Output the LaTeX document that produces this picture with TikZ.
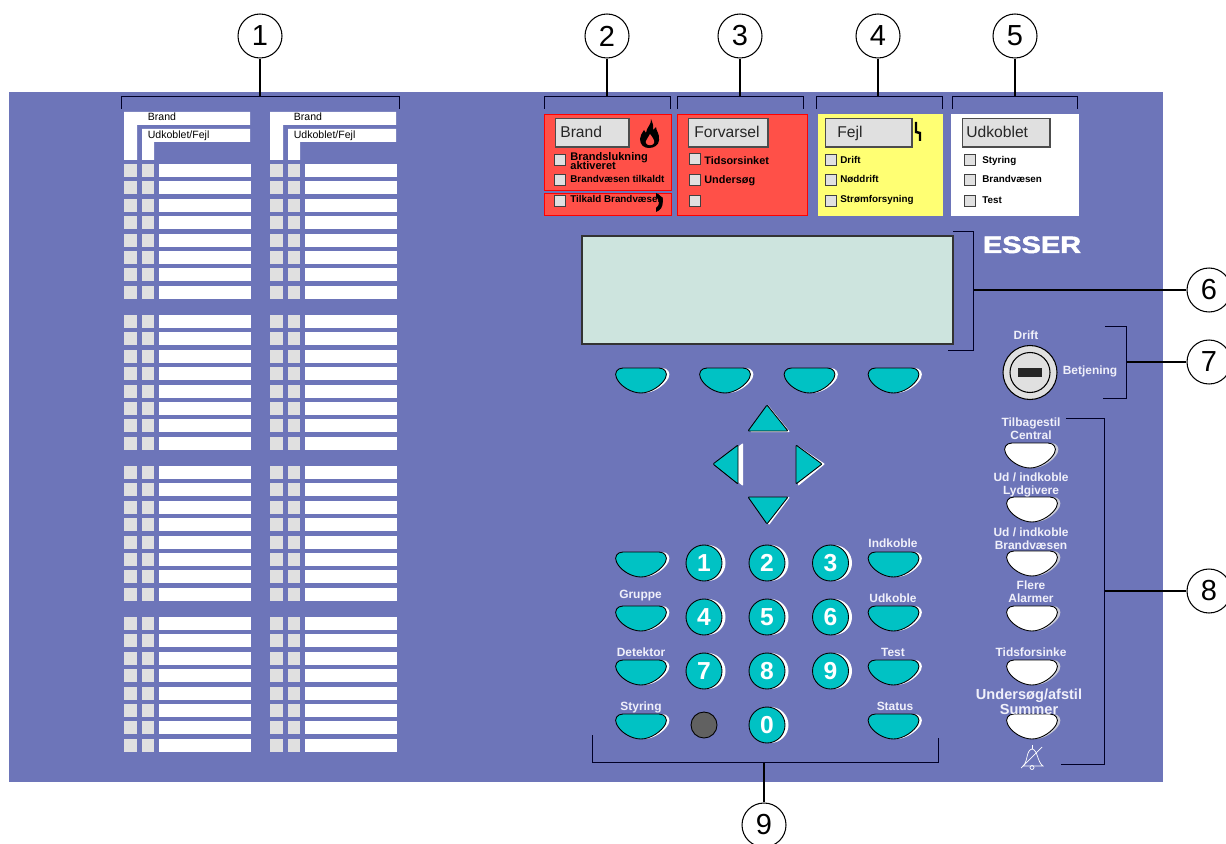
\documentclass[tikz,border=0pt]{standalone}
\usepackage{fontspec}
\setmainfont{Liberation Sans}
\newfontfamily\logofont[FakeBold=2]{Liberation Sans}
\usetikzlibrary{arrows.meta}
\definecolor{panelblue}{HTML}{6D75B9}
\definecolor{keyteal}{HTML}{00C2C4}
\definecolor{alarmred}{HTML}{FF5048}
\definecolor{faultyellow}{HTML}{FFFF73}
\definecolor{lampgrey}{HTML}{E0E0E0}
\definecolor{screengreen}{HTML}{CDE4DE}
\definecolor{labelwhite}{HTML}{F0F0FA}
\newcommand{\keypath}{(-18,0) -- (18,0) .. controls (24,0) and (27,5) .. (24.5,10) .. controls (21,17) and (10,25) .. (0,25) .. controls (-10,25) and (-21,18) .. (-24.5,10) .. controls (-27,5) and (-24,0) .. (-18,0) -- cycle}
\tikzset{
  softkey/.pic={
    \fill[white] [shift={(3,0)}] \keypath;
    \draw[fill=keyteal, line width=0.5pt] \keypath;
  },
  whitekey/.pic={
    \fill[lampgrey!80!panelblue] [shift={(3,0)}] \keypath;
    \draw[fill=white, line width=0.5pt] \keypath;
  },
  callout/.style={draw, circle, fill=white, line width=0.6pt, minimum size=0.88cm, inner sep=0pt, font=\fontsize{16.5}{16.5}\selectfont},
  bracket/.style={line width=0.55pt, draw=black!85!blue},
  leader/.style={line width=1.6pt},
  headbox/.style={draw=black!70, fill=lampgrey, line width=0.6pt},
  headtext/.style={anchor=base west, inner sep=0pt, text=black!85, font=\fontsize{8.9}{9}\selectfont},
  lamp/.style={draw=black!75, fill=lampgrey, line width=0.5pt},
  lamptext/.style={anchor=base west, inner sep=0pt, font=\fontsize{6.2}{6.2}\selectfont\bfseries},
  smalltext/.style={lamptext, font=\fontsize{5.6}{5.6}\selectfont\bfseries},
  zonetext/.style={anchor=base west, inner sep=0pt, font=\fontsize{6}{6}\selectfont},
  paneltext/.style={inner sep=0pt, align=center, text=labelwhite, font=\fontsize{6.8}{7.3}\selectfont\bfseries},
  digitkey/.style={draw, circle, fill=keyteal, line width=0.5pt, minimum size=0.72cm, inner sep=0pt, text=white, font=\fontsize{14}{14}\selectfont\bfseries},
  arrowkey/.style={draw, fill=keyteal, line width=0.5pt, rounded corners=0.5pt},
  arrowedge/.style={fill=white, rounded corners=0.5pt},
}
\begin{document}
\begin{tikzpicture}[x=0.02cm, y=-0.02cm]
\useasboundingbox (0,0) rectangle (1226,844);
\fill[panelblue] (9,92) rectangle (1163,782);

\coordinate (b1) at (260,96);
\coordinate (b2) at (607,96);
\coordinate (b3) at (740,96);
\coordinate (b4) at (878,96);
\coordinate (b5) at (1015,96);
\coordinate (b6) at (973,290);
\coordinate (b7) at (1126,362);
\coordinate (b8) at (1105,591);
\coordinate (b9) at (764,762);
\node[callout] (c1) at (260,36) {1};
\node[callout] (c2) at (607,36) {2};
\node[callout] (c3) at (740,36) {3};
\node[callout] (c4) at (878,36) {4};
\node[callout] (c5) at (1015,36) {5};
\node[callout] (c6) at (1209,290) {6};
\node[callout] (c7) at (1209,362) {7};
\node[callout] (c8) at (1209,591) {8};
\node[callout] (c9) at (764,825) {9};
\foreach \n in {1,...,9}
  \draw[leader] (c\n) -- (b\n);

\draw[bracket] (121,109) -- (121,96.5) -- (399,96.5) -- (399,109);
\draw[bracket] (544,109) -- (544,96.5) -- (670.5,96.5) -- (670.5,109);
\draw[bracket] (677,109) -- (677,96.5) -- (803,96.5) -- (803,109);
\draw[bracket] (816.5,109) -- (816.5,96.5) -- (942,96.5) -- (942,109);
\draw[bracket] (952,109) -- (952,96.5) -- (1077.5,96.5) -- (1077.5,109);
\draw[bracket] (953,231.5) -- (973,231.5) -- (973,350) -- (948,350);
\draw[bracket] (1105,326.5) -- (1126,326.5) -- (1126,398) -- (1103,398);
\draw[bracket] (1066,418) -- (1104.5,418) -- (1104.5,764) -- (1061,764);
\draw[bracket] (592,735) -- (592,762) -- (938,762) -- (938,738);

% zone columns
\foreach \dx/\col in {0/l,146/r} {
  \begin{scope}[shift={(\dx,0)}]
  \fill[white] (124,112) -- (250,112) -- (250,125) -- (137,125) -- (137,160) -- (124,160) -- cycle;
  \fill[white] (142,129) -- (250,129) -- (250,142) -- (154,142) -- (154,160) -- (142,160) -- cycle;
  \node[zonetext] (brand\col) at (147.5,121) {Brand};
  \node[zonetext] (udkoblet\col) at (147.5,139) {Udkoblet/Fejl};
  \foreach \g in {164,315,466,617}
    \foreach \r in {0,...,7} {
      \fill[lampgrey] (124,\g+\r*17.4) rectangle +(13,13);
      \fill[lampgrey] (142,\g+\r*17.4) rectangle +(12,13);
      \fill[white] (159,\g+\r*17.4) rectangle +(92,13);
    }
  \end{scope}
}

% status fields
\draw[draw=red, fill=alarmred, line width=0.5pt] (544.5,114) rectangle (671,190);
\draw[draw=red, fill=alarmred, line width=0.5pt] (544.5,193) rectangle (671,215);
\draw[draw=red, fill=alarmred, line width=0.5pt] (677.5,114) rectangle (807.5,215);
\fill[faultyellow] (817.5,114) rectangle (943,216);
\fill[white] (951,114) rectangle (1079,216);

\draw[headbox] (555.5,118.5) rectangle (629,147);
\draw[headbox] (688.5,118.5) rectangle (768,147);
\draw[headbox] (825.5,118.5) rectangle (912,147);
\draw[headbox] (962.5,118.5) rectangle (1050,147);
\node[headtext] (brandhead) at (560,138) {Brand};
\node[headtext] (forvarselhead) at (694,138) {Forvarsel};
\node[headtext] (fejlhead) at (837,138) {Fejl};
\node[headtext] (udkoblethead) at (966,138) {Udkoblet};

\foreach \x/\y in {559.5/159.5, 559.5/180, 559.5/200.5, 694.5/159, 694.5/180, 694.5/201, 831/159.5, 831/180, 831/200.5, 970/159.5, 970/180, 970/201}
  \draw[lamp] (\x-5.5,\y-5.5) rectangle +(11,11);

\node[lamptext, font=\fontsize{6.3}{6.3}\selectfont\bfseries] (brandslukning) at (570,160.5) {Brandslukning};
\node[lamptext, font=\fontsize{6.3}{6.3}\selectfont\bfseries] (aktiveret) at (570,169.5) {aktiveret};
\node[smalltext] (tilkaldt) at (570,182.5) {Brandvæsen tilkaldt};
\node[smalltext] (tilkald) at (570,203) {Tilkald Brandvæsen};
\node[lamptext] (tidsorsinket) at (704,165) {Tidsorsinket};
\node[lamptext] (undersog) at (704,184) {Undersøg};
\node[smalltext] (drift) at (840,163.5) {Drift};
\node[smalltext] (noddrift) at (840,183) {Nøddrift};
\node[smalltext] (stromforsyning) at (840,203) {Strømforsyning};
\node[smalltext] (styring) at (982,163.5) {Styring};
\node[smalltext] (brandvaesen) at (982,183) {Brandvæsen};
\node[smalltext] (testlamp) at (982,204) {Test};

% flame, lightning, phone
\fill[black] (651,119) .. controls (653,124) and (654,127) .. (653,130) -- (656,127) .. controls (656,131) and (660,134) .. (659,140) .. controls (659,145) and (654,148) .. (649,148) .. controls (644,148) and (640,145) .. (640,139) .. controls (640,136) and (642,133) .. (644,130) -- (646,133) .. controls (646,128) and (652,124) .. (651,119) -- cycle;
\fill[alarmred] (650,134) .. controls (652,137) and (655,140) .. (654,143) .. controls (653,146) and (647,146) .. (646,143) .. controls (645,141) and (648,138) .. (650,134) -- cycle;
\draw[line width=1.4pt] (916,122) -- (916,132) -- (920,133) -- (920,141);
\fill[black] (656,193) .. controls (665,196) and (665,209) .. (656,212) -- (656,208) .. controls (660,205) and (660,200) .. (656,197) -- cycle;

% display
\draw[draw=black!80, fill=screengreen, line width=0.6pt] (582,236) rectangle (953,344);
\node[anchor=base, inner sep=0pt, text=white, xscale=1.22, font=\fontsize{13.5}{13.5}\logofont\bfseries] (logo) at (1032,253) {ESSER};

% key switch
\draw[fill=lampgrey, line width=0.6pt] (1030,372.5) circle (27);
\draw[line width=0.6pt] (1030,372.5) circle (20);
\fill[black!85] (1018,368) rectangle (1042,377);
\node[paneltext] (driftkey) at (1026,335) {Drift};
\node[paneltext] (betjening) at (1090,371) {Betjening};

% soft keys
\foreach \x in {641,725,809.5,893.5}
  \pic at (\x,368) {softkey};
\foreach \x/\y in {641/552,641/606,641/660,641/714,893.5/552,893.5/606,893.5/660,893.5/714}
  \pic at (\x,\y) {softkey};
\foreach \x/\y in {1030/443,1032/497,1032/551,1032/606,1032/660,1032/714}
  \pic at (\x,\y) {whitekey};

\node[paneltext] (gruppe) at (640.5,595.5) {Gruppe};
\node[paneltext] (detektor) at (641,652) {Detektor};
\node[paneltext] (styringkey) at (641,707) {Styring};
\node[paneltext] (indkoble) at (893,543) {Indkoble};
\node[paneltext] (udkoble) at (893,598) {Udkoble};
\node[paneltext] (testkey) at (893,652) {Test};
\node[paneltext] (status) at (895,706) {Status};

\node[paneltext] (tilbagestil) at (1031,429) {Tilbagestil\\Central};
\node[paneltext] (lydgivere) at (1031,485) {Ud / indkoble\\Lydgivere};
\node[paneltext] (brandvaesenkey) at (1031,539) {Ud / indkoble\\Brandvæsen};
\node[paneltext] (alarmer) at (1031,592) {Flere\\Alarmer};
\node[paneltext] (tidsforsinke) at (1031,652) {Tidsforsinke};
\node[paneltext, font=\fontsize{8.3}{8.8}\selectfont\bfseries] (summer) at (1029,702) {Undersøg/afstil\\Summer};

% arrow keys
\fill[arrowedge] (768,405) -- (790,432) -- (750,432) -- cycle;
\draw[arrowkey] (767,405) -- (788,431) -- (748,431) -- cycle;
\fill[arrowedge] (715,464) -- (743,443) -- (743,486) -- cycle;
\draw[arrowkey] (713,464) -- (738,445) -- (738,484) -- cycle;
\fill[arrowedge] (825,464) -- (798,446) -- (798,486) -- cycle;
\draw[arrowkey] (822,464) -- (796,445) -- (796,484) -- cycle;
\fill[arrowedge] (769,525) -- (790,497) -- (752,499) -- cycle;
\draw[arrowkey] (767,524) -- (788,497) -- (748,497) -- cycle;

% digit keys
\foreach \d/\x/\y in {1/704/563,2/767/563,3/830.5/563,4/704/617,5/767/617,6/830.5/617,7/704/671,8/767/671,9/830.5/671,0/767/725} {
  \fill[white] (\x+3.5,\y) circle (18);
  \node[digitkey] (key\d) at (\x,\y) {\d};
}
\draw[fill=black!62, line width=0.5pt] (704,725) circle (13);

% muted bell
\draw[white, line width=0.4pt] (1032,745) -- (1032,749);
\draw[white, line width=0.4pt] (1023,766) .. controls (1028,762) and (1026,750) .. (1032,749) .. controls (1038,750) and (1037,762) .. (1043,766) -- cycle;
\draw[white, line width=0.4pt] (1032,767.5) circle (2);
\draw[white, line width=0.4pt] (1021,768) -- (1042,747);
\end{tikzpicture}
\end{document}
